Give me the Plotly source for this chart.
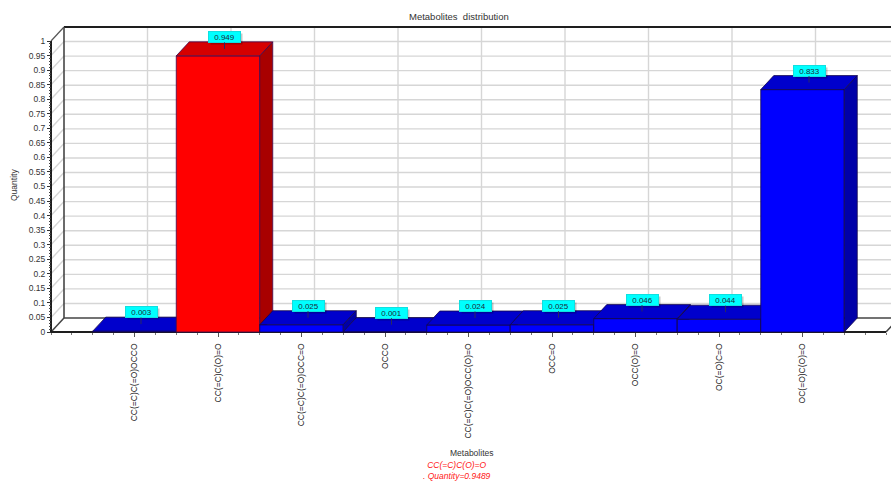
import plotly.graph_objects as go

# ---- data ----
METABOLITES = [
    "CC(=C)C(=O)OCCO",
    "CC(=C)C(O)=O",
    "CC(=C)C(=O)OCC=O",
    "OCCO",
    "CC(=C)C(=O)OCC(O)=O",
    "OCC=O",
    "OCC(O)=O",
    "OC(=O)C=O",
    "OC(=O)C(O)=O",
]
QUANTITY = [0.003, 0.9489, 0.025, 0.001, 0.024, 0.025, 0.046, 0.044, 0.833]
Y_TICKS = [0, 0.05, 0.1, 0.15, 0.2, 0.25, 0.3, 0.35, 0.4, 0.45, 0.5,
           0.55, 0.6, 0.65, 0.7, 0.75, 0.8, 0.85, 0.9, 0.95, 1]
Y_TICK_TEXT = ["0", "0.05", "0.1", "0.15", "0.2", "0.25", "0.3", "0.35", "0.4", "0.45", "0.5",
               "0.55", "0.6", "0.65", "0.7", "0.75", "0.8", "0.85", "0.9", "0.95", "1"]

# ---- layout geometry ----
W, H = 891, 482
PX_PER_CAT = 83.5          # pixels per category slot
PX_PER_Y = 291.0           # pixels per unit of quantity
M_L, M_R, M_T, M_B = 47, 0, 18, 146
AXIS_X_PX, AXIS_Y_PX = 51, 332   # front-left axis corner (pixels)

X_LO = -1.0
Y_LO = 0.0
x_range = [X_LO - (AXIS_X_PX - M_L) / PX_PER_CAT, X_LO + (W - M_R - AXIS_X_PX) / PX_PER_CAT]
y_range = [Y_LO - (H - M_B - AXIS_Y_PX) / PX_PER_Y, Y_LO + (AXIS_Y_PX - M_T) / PX_PER_Y]
plot_w = W - M_L - M_R
plot_h = H - M_T - M_B

# depth offset of the pseudo-3D box (in data units)
DX = 13 / PX_PER_CAT
DY = 14 / PX_PER_Y
N = len(METABOLITES)
X_HI = N  # right end of the floor
HALF = 0.5

FONT = "Liberation Sans, Arial, sans-serif"

fig = go.Figure()


def line(xs, ys, color, width):
    fig.add_trace(go.Scatter(x=xs, y=ys, mode="lines", line=dict(color=color, width=width),
                             hoverinfo="skip", showlegend=False))


def poly(xs, ys, fill, edge):
    fig.add_trace(go.Scatter(x=xs + [xs[0]], y=ys + [ys[0]], mode="lines", fill="toself",
                             fillcolor=fill, line=dict(color=edge, width=0.8),
                             hoverinfo="skip", showlegend=False))


# back wall and left wall grid
gx, gy = [], []
for t in Y_TICKS[1:-1]:
    gx += [X_LO + DX, X_HI + DX, None, X_LO, X_LO + DX, None]
    gy += [t + DY, t + DY, None, t, t + DY, None]
for i in range(N):
    gx += [i + DX, i + DX, None]
    gy += [DY, 1 + DY, None]
line(gx, gy, "#d6d6d6", 1.4)

# box frame
line([X_LO + DX, X_HI + DX], [1 + DY, 1 + DY], "#1e1e1e", 2)
line([X_LO + DX, X_LO + DX], [DY, 1 + DY], "#3a3a3a", 1.5)
line([X_LO, X_LO + DX], [1, 1 + DY], "#555555", 1.2)
line([X_LO + DX, X_HI + DX], [DY, DY], "#444444", 1.5)
line([X_LO, X_LO + DX], [0, DY], "#444444", 1.5)
line([X_HI, X_HI + DX], [0, DY], "#444444", 1.5)
line([X_LO, X_HI], [0, 0], "#1e1e1e", 2)
line([X_LO, X_LO], [0, 1], "#1e1e1e", 2)

# bars: front, top and side faces, painted left to right
hi = max(range(N), key=lambda k: QUANTITY[k])
for i, v in enumerate(QUANTITY):
    if i == hi:
        front, top, side, edge = "#ff0000", "#d60000", "#a80000", "#3c0a50"
    else:
        front, top, side, edge = "#0000ff", "#0000cc", "#0000a8", "#14084a"
    l, r = i - HALF, i + HALF
    poly([l, r, r, l], [0, 0, v, v], front, edge)
    poly([l, r, r + DX, l + DX], [v, v, v + DY, v + DY], top, edge)
    poly([r, r + DX, r + DX, r], [0, DY, v + DY, v], side, edge)

annotations = []
# value labels, each with a soft drop shadow box
for i, v in enumerate(QUANTITY):
    common = dict(x=i + DX / 2, y=v + DY / 2, xref="x", yref="y",
                  showarrow=True, arrowhead=0, ax=0, ay=-12, width=31, height=10,
                  borderpad=0, borderwidth=1)
    annotations.append(dict(common, text="&nbsp;", xshift=2, yshift=-2,
                            bgcolor="rgba(0,0,0,0.22)", bordercolor="rgba(0,0,0,0)",
                            arrowcolor="rgba(0,0,0,0)", font=dict(family=FONT, size=8)))
    annotations.append(dict(common, text=f"{v:.3f}", bgcolor="#00ffff", bordercolor="#10e0e0",
                            arrowcolor="#2a2a60", arrowwidth=1,
                            font=dict(family=FONT, size=8, color="#1e2a3a")))


def px_x(p):
    return (p - M_L) / plot_w


def px_y(p):
    return (H - M_B - p) / plot_h


def label(text, x, y, size, color, **kw):
    return dict(text=text, x=px_x(x), y=px_y(y), xref="paper", yref="paper",
                xanchor="center", yanchor="middle", showarrow=False,
                font=dict(family=FONT, size=size, color=color), **kw)


annotations += [
    label("Metabolites&nbsp; distribution", 459, 17, 9.5, "#333333"),
    label("Quantity", 14, 185, 8.5, "#333333", textangle=-90),
    label("Metabolites", 471, 453, 8.5, "#333333"),
    label(f"<i>{METABOLITES[hi]}<br>. Quantity={QUANTITY[hi]:.4f}</i>", 457, 470, 8.5,
          "#ff2020", align="center"),
]

fig.update_layout(
    width=W, height=H,
    margin=dict(l=M_L, r=M_R, t=M_T, b=M_B),
    paper_bgcolor="white", plot_bgcolor="white",
    annotations=annotations,
    xaxis=dict(range=x_range, showgrid=False, zeroline=False, showline=False,
               tickmode="array", tickvals=list(range(N)), ticktext=METABOLITES,
               tickangle=-90, ticks="outside", ticklen=4, tickcolor="#555555",
               ticklabelstandoff=3,
               minor=dict(tickmode="linear", tick0=0, dtick=0.25, ticks="outside",
                          ticklen=2, tickcolor="#777777"),
               tickfont=dict(family=FONT, size=8.5, color="#222222"),
               anchor="free", position=((H - M_B) - AXIS_Y_PX) / plot_h),
    yaxis=dict(range=y_range, showgrid=False, zeroline=False, showline=False,
               tickmode="array", tickvals=Y_TICKS, ticktext=Y_TICK_TEXT,
               ticks="outside", ticklen=4, tickcolor="#333333",
               minor=dict(tickmode="array", tickvals=[k / 100 for k in range(101)],
                          ticks="outside", ticklen=2, tickcolor="#444444"),
               tickfont=dict(family=FONT, size=8.5, color="#333333"),
               anchor="free", position=(AXIS_X_PX - M_L) / plot_w),
)

fig.write_html("out.html")
